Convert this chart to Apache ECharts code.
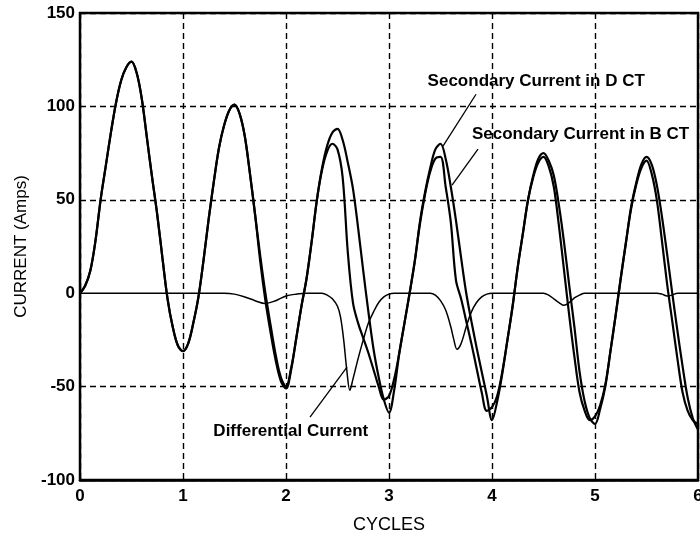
<!DOCTYPE html>
<html>
<head>
<meta charset="utf-8">
<title>CT secondary currents</title>
<script src="https://cdn.jsdelivr.net/npm/echarts@6/dist/echarts.min.js"></script>
<style>
  html, body { margin: 0; padding: 0; background: #fff; }
  #chart { width: 700px; height: 535px; }
</style>
</head>
<body>
<div id="chart"></div>
<script>
// sample positions (cycles) shared by the two CT traces
const cycles = [
  0.00, 0.05, 0.10, 0.15, 0.20, 0.25, 0.30, 0.35, 0.40, 0.45,
  0.50, 0.55, 0.60, 0.65, 0.70, 0.75, 0.80, 0.85, 0.90, 0.95,
  1.00, 1.05, 1.10, 1.15, 1.20, 1.25, 1.30, 1.35, 1.40, 1.45,
  1.50, 1.55, 1.60, 1.65, 1.70, 1.75, 1.80, 1.85, 1.90, 1.95,
  2.00, 2.05, 2.10, 2.15, 2.20, 2.25, 2.30, 2.35, 2.40, 2.45,
  2.50, 2.55, 2.60, 2.65, 2.70, 2.75, 2.80, 2.85, 2.90, 2.95,
  3.00, 3.05, 3.10, 3.15, 3.20, 3.25, 3.30, 3.35, 3.40, 3.45,
  3.50, 3.55, 3.60, 3.65, 3.70, 3.75, 3.80, 3.85, 3.90, 3.95,
  4.00, 4.05, 4.10, 4.15, 4.20, 4.25, 4.30, 4.35, 4.40, 4.45,
  4.50, 4.55, 4.60, 4.65, 4.70, 4.75, 4.80, 4.85, 4.90, 4.95,
  5.00, 5.05, 5.10, 5.15, 5.20, 5.25, 5.30, 5.35, 5.40, 5.45,
  5.50, 5.55, 5.60, 5.65, 5.70, 5.75, 5.80, 5.85, 5.90, 5.95,
  6.00
];

// secondary current in D CT (Amps)
const currentD = [
  0, 4, 12, 28, 50, 68, 86, 102, 114, 121,
  124, 118, 104, 83, 62, 42, 19, -3, -18, -28,
  -31, -27, -16, -2, 18, 40, 60, 78, 90, 98,
  101, 96, 84, 64, 42, 20, 0, -17, -33, -45,
  -50, -40, -24, -7, 8, 28, 50, 67, 79, 86,
  88, 82, 70, 56, 35, 12, -10, -30, -45, -57,
  -64, -52, -32, -16, 0, 17, 38, 54, 67, 77,
  80, 72, 57, 39, 19, 0, -15, -29, -42, -55,
  -68, -58, -43, -25, -7, 14, 32, 50, 63, 72,
  75, 71, 63, 47, 27, 4, -18, -42, -58, -67,
  -70, -62, -50, -31, -12, 8, 27, 46, 59, 69,
  73, 69, 58, 41, 21, 0, -20, -39, -56, -67,
  -73
];

// secondary current in B CT (Amps)
const currentB = [
  0, 4, 12, 28, 50, 68, 86, 102, 114, 121,
  124, 118, 104, 83, 62, 42, 19, -3, -18, -28,
  -31, -27, -16, -2, 18, 40, 60, 78, 90, 98,
  101, 96, 84, 64, 42, 17, -4, -21, -36, -47,
  -51, -41, -24, -7, 8, 28, 50, 66, 76, 80,
  77, 62, 22, -5, -16, -24, -32, -41, -50, -57,
  -55, -46, -32, -16, 0, 17, 37, 53, 65, 72,
  73, 57, 38, 7, -3, -15, -27, -40, -53, -63,
  -61, -55, -42, -25, -7, 14, 32, 50, 62, 70,
  73, 68, 57, 36, 12, -12, -34, -53, -63, -68,
  -66, -60, -49, -31, -12, 8, 27, 45, 58, 67,
  71, 64, 50, 28, 5, -15, -35, -53, -63, -68,
  -70
];

// differential current, sampled more densely around the dips
const diffCycles = [
  0.00, 1.40, 1.50, 1.60, 1.70, 1.80, 1.90, 2.00, 2.10, 2.20,
  2.35, 2.40, 2.45, 2.50, 2.53, 2.56, 2.59, 2.62, 2.65, 2.70,
  2.75, 2.80, 2.85, 2.90, 2.95, 3.00, 3.05, 3.40, 3.45, 3.50,
  3.55, 3.60, 3.63, 3.66, 3.70, 3.75, 3.80, 3.85, 3.90, 3.95,
  4.00, 4.50, 4.55, 4.60, 4.65, 4.70, 4.75, 4.80, 4.85, 4.90,
  5.60, 5.65, 5.70, 5.75, 5.80, 6.00
];
const diffCurrent = [
  0, 0, -0.5, -2, -4, -5.5, -4, -1.5, -0.5, 0,
  0, -1, -3, -7, -13, -25, -41, -52, -46, -35,
  -25, -16, -10, -5, -2, -0.5, 0, 0, -1, -4,
  -9, -18, -25, -30, -27, -18, -10, -5, -2, -0.5,
  0, 0, -1, -3, -5, -6.5, -5, -2.5, -1, 0,
  0, -0.5, -1.5, -1, 0, 0
];

// callout text and the leader line from it to its curve, in data units
const calloutD = { text: "Secondary Current in D CT", at: [3.37, 113.5], from: [3.845, 106.5], to: [3.524, 78.7] };
const calloutB = { text: "Secondary Current in B CT", at: [3.80, 85], from: [3.864, 77.1], to: [3.612, 57.8] };
const calloutDiff = { text: "Differential Current", at: [1.29, -74], from: [2.233, -66.4], to: [2.592, -39.6] };

const FONT = "'Liberation Sans', Arial, sans-serif";

const pairs = (xs, ys) => xs.map((x, i) => [x, ys[i]]);

const callout = (c) => ({
  markPoint: {
    silent: true,
    symbol: "circle",
    symbolSize: 1,
    itemStyle: { color: "rgba(0,0,0,0)" },
    label: {
      show: true,
      position: "right",
      distance: 0,
      color: "#000",
      fontFamily: FONT,
      fontSize: 17,
      fontWeight: "bold",
      formatter: (p) => p.name,
    },
    data: [{ name: c.text, coord: c.at }],
  },
  markLine: {
    silent: true,
    symbol: ["none", "none"],
    label: { show: false },
    lineStyle: { color: "#000", width: 1.3, type: "solid" },
    data: [[{ coord: c.from }, { coord: c.to }]],
  },
});

const traceLine = (name, data, width, c) => Object.assign({
  name,
  type: "line",
  data,
  showSymbol: false,
  smooth: 0.35,
  lineStyle: { color: "#000", width },
  itemStyle: { color: "#000" },
}, callout(c));

const tickLabel = { color: "#000", fontFamily: FONT, fontSize: 17, fontWeight: "bold" };

const chart = echarts.init(document.getElementById("chart"), null, { renderer: "canvas" });

chart.setOption({
  animation: false,
  backgroundColor: "#fff",
  grid: {
    left: 80, right: 2, top: 13, bottom: 55,
    containLabel: false,
    outerBoundsMode: "none",
    show: true, borderColor: "#000", borderWidth: 2.5,
  },
  xAxis: {
    type: "value",
    min: 0, max: 6, interval: 1,
    name: "CYCLES",
    nameLocation: "middle",
    nameGap: 36,
    nameTextStyle: { color: "#000", fontFamily: FONT, fontSize: 18 },
    axisLine: { onZero: false, lineStyle: { color: "#000", width: 2.5 } },
    axisTick: { show: false },
    axisLabel: Object.assign({ margin: 8 }, tickLabel),
    splitLine: { show: true, lineStyle: { color: "#000", width: 1.4, type: [6, 4] } },
  },
  yAxis: {
    type: "value",
    min: -100, max: 150, interval: 50,
    name: "CURRENT (Amps)",
    nameLocation: "middle",
    nameGap: 48,
    nameRotate: 90,
    nameTextStyle: { color: "#000", fontFamily: FONT, fontSize: 17 },
    axisLine: { show: true, onZero: false, lineStyle: { color: "#000", width: 2 } },
    axisTick: { show: false },
    axisLabel: Object.assign({ margin: 5 }, tickLabel),
    // the zero level carries the differential trace, so no dashed line under it
    splitLine: {
      show: true,
      lineStyle: {
        color: ["#000", "#000", "rgba(0,0,0,0)", "#000", "#000", "#000"],
        width: 1.4,
        type: [6, 4],
      },
    },
  },
  series: [
    traceLine("Differential Current", pairs(diffCycles, diffCurrent), 1.5, calloutDiff),
    traceLine("Secondary Current in B CT", pairs(cycles, currentB), 2.2, calloutB),
    traceLine("Secondary Current in D CT", pairs(cycles, currentD), 2.2, calloutD),
  ],
});
</script>
</body>
</html>
